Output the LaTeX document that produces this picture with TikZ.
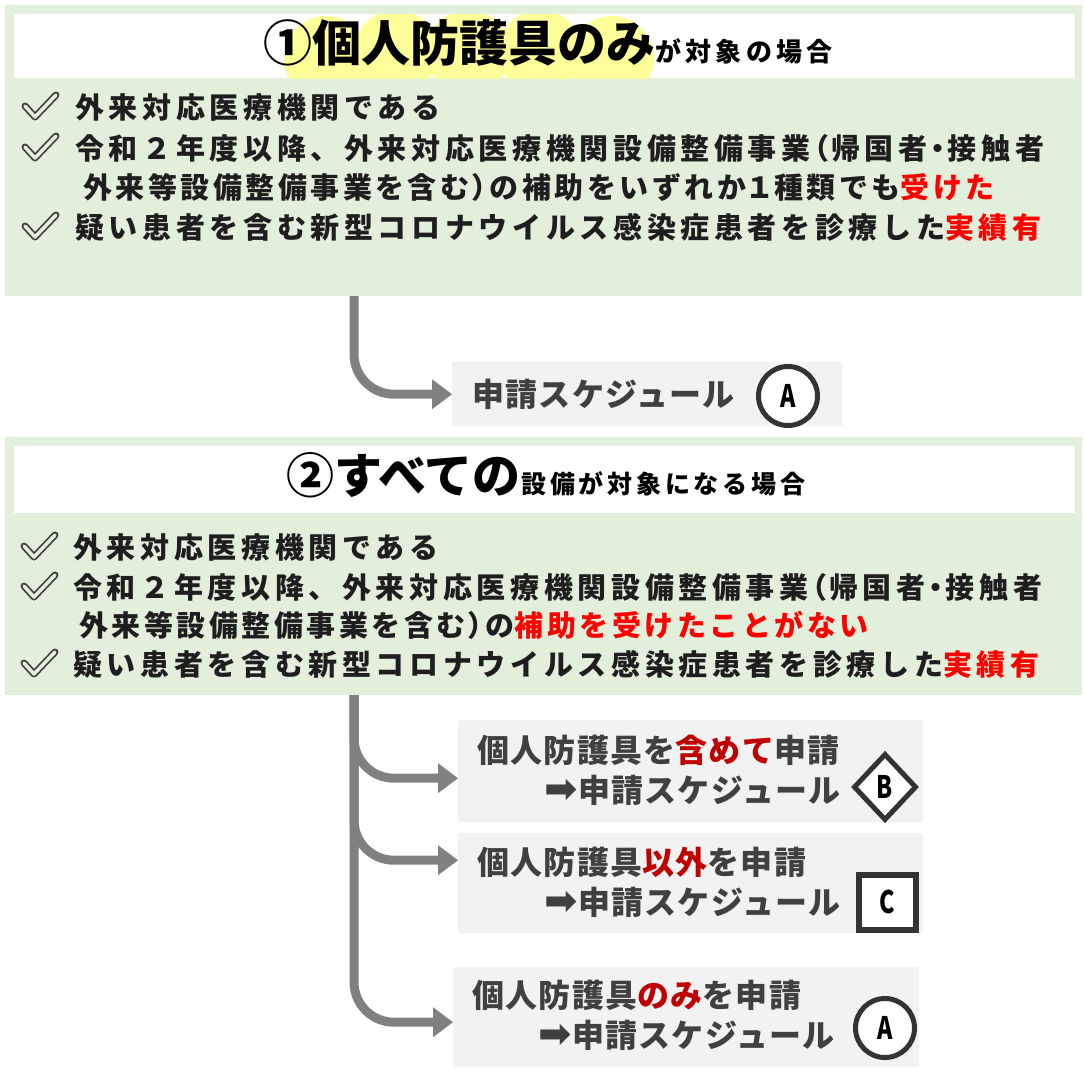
\documentclass[tikz,border=0pt]{standalone}
\usepackage{fontspec}
\setmainfont{Noto Sans CJK JP}
\newfontfamily\symfont{DejaVu Sans}
\usetikzlibrary{arrows.meta,shapes.geometric}

\definecolor{panelgreen}{HTML}{E2EFDA}
\definecolor{hilite}{HTML}{FFFF99}
\definecolor{flowgray}{HTML}{808080}
\definecolor{boxgray}{HTML}{F2F2F2}
\definecolor{ink}{HTML}{1E1E1E}
\definecolor{boxink}{HTML}{404040}
\definecolor{markink}{HTML}{333333}
\definecolor{alert}{HTML}{FF0000}
\definecolor{darkalert}{HTML}{C00000}

\newcommand\marklet[1]{\scalebox{0.75}[1]{#1}}
\newcommand\narrowch[1]{\hspace{3pt}{\addfontfeature{RawFeature=+palt}#1}\hspace{3pt}}
\newcommand\goarrow{{\symfont\fontsize{40}{32}\selectfont ➡}}

\tikzset{
  panel/.style={fill=panelgreen, anchor=north west, inner sep=0},
  headbox/.style={fill=white, anchor=north west, inner sep=0},
  bigtitle/.style={anchor=base west, inner sep=0, text=black},
  cond/.style={anchor=west, inner sep=0, text=ink,
    font=\bfseries\fontsize{29}{29}\selectfont\addfontfeature{LetterSpace=16}},
  condtight/.style={cond,
    font=\bfseries\fontsize{29}{29}\selectfont\addfontfeature{LetterSpace=12}},
  flow/.style={draw=flowgray, line width=9pt, rounded corners=40pt,
    -{Triangle[length=20pt, width=30pt, line width=0pt]}},
  sched/.style={fill=boxgray, rounded corners=2pt, anchor=north west, inner sep=0},
  boxtext/.style={anchor=west, inner sep=0, text=boxink,
    font=\bfseries\fontsize{32}{32}\selectfont\addfontfeature{LetterSpace=4}},
  markring/.style={circle, draw=markink, line width=5pt, fill=white, inner sep=0,
    minimum size=59, font=\bfseries\fontsize{31}{31}\selectfont},
  markdiamond/.style={diamond, draw=markink, line width=5pt, fill=white, inner sep=0,
    minimum width=63, minimum height=67, font=\bfseries\fontsize{31}{31}\selectfont},
  markbox/.style={rectangle, draw=markink, line width=6pt, fill=white, inner sep=0,
    minimum width=57, minimum height=55, font=\bfseries\fontsize{31}{31}\selectfont},
  chk/.pic={
    \draw[boxink, line width=7pt, line join=round, line cap=round] (0,-1) -- (10,10) -- (31,-12);
    \draw[panelgreen, line width=3.5pt, line join=round, line cap=round] (0,-1) -- (10,10) -- (31,-12);
  }
}

\begin{document}
\begin{tikzpicture}[x=1pt, y=-1pt]
  \useasboundingbox (0,0) rectangle (1085,1077);

  % Case 1: personal protective equipment only
  \node[panel, minimum width=1077, minimum height=291] (sec1) at (5,5) {};
  \node[headbox, minimum width=1061, minimum height=64] (head1) at (14,14) {};
  \begin{scope}
    \clip (head1.north west) rectangle (head1.south east);
    \fill[hilite] (326,58) circle (42) (396,52) circle (42) (468,52) circle (42)
                  (540,52) circle (42) (612,58) circle (42);
  \end{scope}
  \node[bigtitle, font=\bfseries\fontsize{49}{49}\selectfont] (title1) at (263,61) {①個人防護具のみ};
  \node[bigtitle, font=\bfseries\fontsize{26}{26}\selectfont\addfontfeature{LetterSpace=16}]
    (title1b) at (title1.base east) {が対象の場合};

  \pic at (25,107) {chk};
  \node[cond] (c11) at (75,107) {外来対応医療機関である};
  \pic at (25,148) {chk};
  \node[cond] (c12) at (75,148) {令和２年度以降、外来対応医療機関設備整備事業\narrowch{（}帰国者\narrowch{・}接触者};
  \node[condtight] (c13) at (83,187) {外来等設備整備事業を含む\narrowch{）}の補助をいずれか\narrowch{１}種類でも\textcolor{alert}{受けた}};
  \pic at (25,227) {chk};
  \node[cond] (c14) at (75,227) {疑い患者を含む新型コロナウイルス感染症患者を診療した\textcolor{alert}{実績有}};

  % Schedule A
  \coordinate (drop1) at (354,296);
  \node[sched, minimum width=390, minimum height=64] (next1) at (452,362) {};
  \draw[flow] (drop1) |- (next1.west);
  \node[boxtext] (s1) at (472,394) {申請スケジュール};
  \node[markring] (m1) at (788,396) {\marklet{A}};

  % Case 2: all equipment
  \node[panel, minimum width=1077, minimum height=258] (sec2) at (5,437) {};
  \node[headbox, minimum width=1061, minimum height=67] (head2) at (14,446) {};
  \node[bigtitle, font=\bfseries\fontsize{48}{48}\selectfont] (title2) at (286,493) {②すべての};
  \node[bigtitle, font=\bfseries\fontsize{25}{25}\selectfont\addfontfeature{LetterSpace=15}]
    (title2b) at (title2.base east) {設備が対象になる場合};

  \pic at (24,547) {chk};
  \node[cond] (c21) at (73,547) {外来対応医療機関である};
  \pic at (24,587) {chk};
  \node[cond] (c22) at (73,587) {令和２年度以降、外来対応医療機関設備整備事業\narrowch{（}帰国者\narrowch{・}接触者};
  \node[condtight] (c23) at (79,625) {外来等設備整備事業を含む\narrowch{）}の\textcolor{alert}{補助を受けたことがない}};
  \pic at (24,664) {chk};
  \node[cond] (c24) at (73,664) {疑い患者を含む新型コロナウイルス感染症患者を診療した\textcolor{alert}{実績有}};

  % Three options
  \coordinate (drop2) at (354,695);
  \node[sched, minimum width=465, minimum height=102] (optB) at (458,720) {};
  \node[sched, minimum width=465, minimum height=100] (optC) at (458,833) {};
  \node[sched, minimum width=466, minimum height=100] (optA) at (453,967) {};
  \draw[flow] (drop2) |- ([yshift=-7pt]optB.west);
  \draw[flow] (drop2) |- ([yshift=23pt]optC.west);
  \draw[flow] (drop2) |- ([yshift=-5pt]optA.west);

  \node[boxtext] (b1) at (477,750) {個人防護具を\textcolor{darkalert}{含めて}申請};
  \node[boxtext, anchor=east] (b2) at (841,790) {\goarrow 申請スケジュール};
  \node[markdiamond] (mB) at (885,787) {\marklet{B}};

  \node[boxtext] (b3) at (477,862) {個人防護具\textcolor{darkalert}{以外}を申請};
  \node[boxtext, anchor=east] (b4) at (841,902) {\goarrow 申請スケジュール};
  \node[markbox] (mC) at (887,902) {\marklet{C}};

  \node[boxtext] (b5) at (472,995) {個人防護具\textcolor{darkalert}{のみ}を申請};
  \node[boxtext, anchor=east] (b6) at (835,1035) {\goarrow 申請スケジュール};
  \node[markring] (mA) at (885,1028) {\marklet{A}};
\end{tikzpicture}
\end{document}
